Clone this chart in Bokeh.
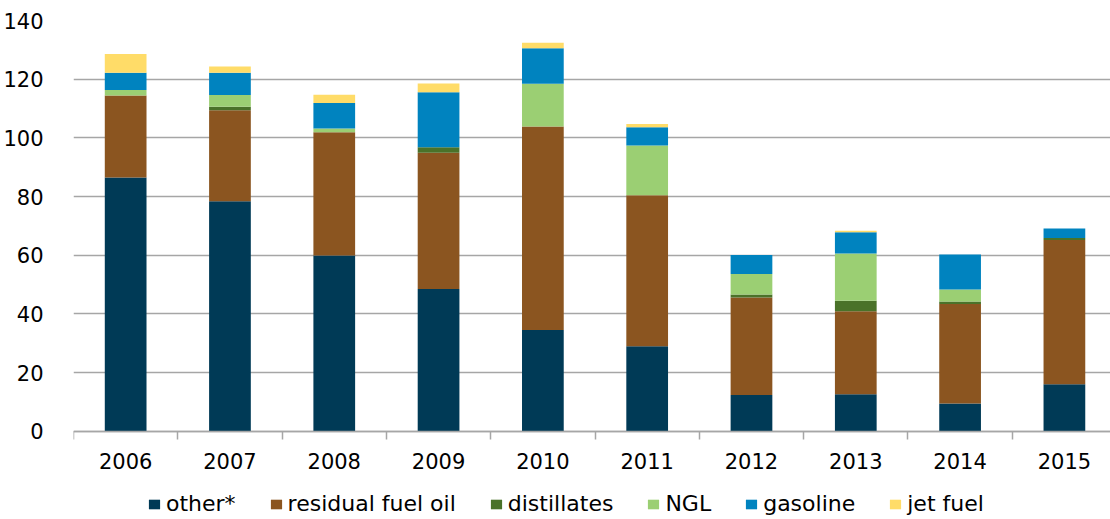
from bokeh.plotting import figure
from bokeh.models import Range1d, FixedTicker, Legend, LegendItem
from bokeh.embed import file_html
from bokeh.resources import INLINE

years = [2006, 2007, 2008, 2009, 2010, 2011, 2012, 2013, 2014, 2015]
other = [86.5, 78.4, 59.9, 48.5, 34.5, 29.0, 12.3, 12.6, 9.4, 16.0]
residual_fuel_oil = [27.9, 31.0, 42.0, 46.4, 69.4, 51.4, 33.3, 28.3, 34.0, 49.2]
distillates = [0.0, 1.2, 0.0, 1.9, 0.0, 0.0, 1.0, 3.6, 0.8, 0.7]
ngl = [1.9, 4.0, 1.3, 0.0, 14.5, 17.0, 7.0, 16.1, 4.1, 0.0]
gasoline = [5.9, 7.6, 8.7, 18.7, 12.1, 6.2, 6.5, 7.2, 11.9, 3.2]
jet_fuel = [6.4, 2.1, 2.8, 3.0, 1.9, 1.1, 0.0, 0.5, 0.0, 0.0]

series_keys = ["other", "residual", "distillates", "ngl", "gasoline", "jet"]
series_labels = ["other*", "residual fuel oil", "distillates", "NGL", "gasoline", "jet fuel"]
colors = ["#003a56", "#8b5520", "#4a7229", "#9bcf73", "#0083bf", "#ffdc68"]
y_ticks = [0, 20, 40, 60, 80, 100, 120, 140]

data = dict(year=years, other=other, residual=residual_fuel_oil,
            distillates=distillates, ngl=ngl, gasoline=gasoline, jet=jet_fuel)

FONT = "DejaVu Sans"
GRID = "#a6a6a6"

p = figure(width=1110, height=519, output_backend="svg", toolbar_location=None,
           x_range=Range1d(2005.5, 2015.442), y_range=Range1d(-30.1, 140),
           min_border_left=73, min_border_right=0, min_border_top=20, min_border_bottom=0)
p.outline_line_color = None
p.background_fill_color = "white"
p.border_fill_color = "white"

renderers = p.vbar_stack(series_keys, x="year", width=0.4, source=data,
                         color=colors, line_color=None)

# x axis drawn at y = 0 inside the frame
p.xaxis.fixed_location = 0
p.xaxis.ticker = FixedTicker(ticks=years, minor_ticks=[y - 0.5 for y in years])
p.xaxis.major_label_overrides = {y: str(y) for y in years}
p.xaxis.major_tick_out = 0
p.xaxis.major_tick_in = 0
p.xaxis.minor_tick_out = 8
p.xaxis.minor_tick_in = 0
p.xaxis.minor_tick_line_color = GRID
p.xaxis.minor_tick_line_width = 1.5
p.xaxis.axis_line_color = GRID
p.xaxis.axis_line_width = 1.5
p.xaxis.major_label_standoff = 14
p.xaxis.major_label_text_font = FONT
p.xaxis.major_label_text_font_size = "21px"
p.xaxis.major_label_text_color = "#000000"

p.yaxis.ticker = FixedTicker(ticks=y_ticks)
p.yaxis.axis_line_color = None
p.yaxis.major_tick_line_color = None
p.yaxis.minor_tick_line_color = None
p.yaxis.major_label_standoff = 24
p.yaxis.major_label_text_font = FONT
p.yaxis.major_label_text_font_size = "21px"
p.yaxis.major_label_text_color = "#000000"

p.xgrid.grid_line_color = None
p.ygrid.grid_line_color = GRID
p.ygrid.grid_line_width = 1.5

items = [LegendItem(label=lab, renderers=[r]) for lab, r in zip(series_labels, renderers)]
legend = Legend(items=items, orientation="horizontal", location=(74, 3),
                glyph_width=14, glyph_height=12, label_standoff=5, spacing=33,
                padding=0, margin=0, border_line_color=None, background_fill_alpha=0,
                label_text_font=FONT, label_text_font_size="22px",
                label_text_color="#000000")
p.add_layout(legend, "center")

open("out.html", "w").write(file_html(p, INLINE))
